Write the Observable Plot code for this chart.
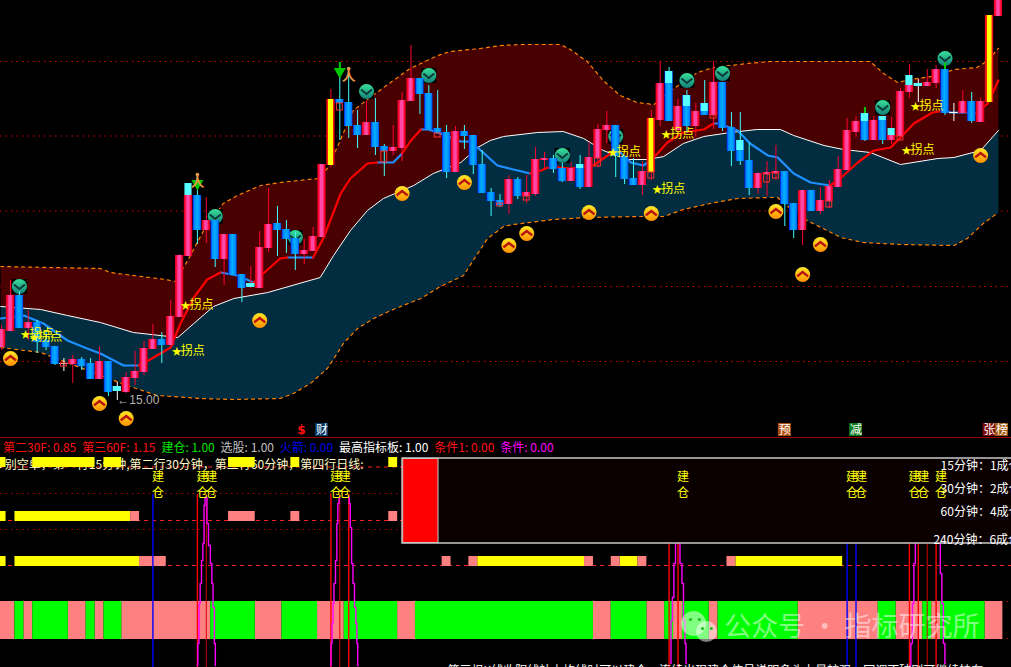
<!DOCTYPE html>
<html><head><meta charset="utf-8">
<script src="https://cdn.jsdelivr.net/npm/d3@7"></script>
<script src="https://cdn.jsdelivr.net/npm/@observablehq/plot@0.6"></script>
<style>
html,body{margin:0;padding:0;background:#000;overflow:hidden;width:1011px;height:667px}
#hdr{height:19px;line-height:18px;white-space:nowrap;font:12px "Noto Sans CJK SC",sans-serif;padding-left:3px;overflow:hidden;box-sizing:border-box}
#hdr span{margin-right:5.9px;display:inline-block}
svg{display:block}
</style></head><body>
<svg width="0" height="0" style="position:absolute"><defs>
<linearGradient id="up"><stop offset="0" stop-color="#d00020"/><stop offset=".15" stop-color="#ff0028"/><stop offset=".38" stop-color="#ff48a8"/><stop offset=".64" stop-color="#ff48a8"/><stop offset=".85" stop-color="#ff0028"/><stop offset="1" stop-color="#d00020"/></linearGradient>
<linearGradient id="dn"><stop offset="0" stop-color="#0010f0"/><stop offset=".16" stop-color="#0080ff"/><stop offset=".5" stop-color="#00b0ff"/><stop offset=".84" stop-color="#0088ff"/><stop offset="1" stop-color="#0040f0"/></linearGradient>
<linearGradient id="yl"><stop offset="0" stop-color="#e00020"/><stop offset=".2" stop-color="#ff2000"/><stop offset=".26" stop-color="#ffff00"/><stop offset=".76" stop-color="#ffff00"/><stop offset=".84" stop-color="#ff2000"/><stop offset="1" stop-color="#e00020"/></linearGradient>
<linearGradient id="gr" x1="0" y1="0" x2="0" y2="1"><stop offset="0" stop-color="#38e09a"/><stop offset="1" stop-color="#128078"/></linearGradient>
<linearGradient id="or" x1="0" y1="0" x2="0" y2="1"><stop offset="0" stop-color="#ffe828"/><stop offset="1" stop-color="#ff9000"/></linearGradient>
</defs></svg>
<div id="main"></div><div id="hdr"></div><div id="sub"></div>
<script>
// ---- candles, one value per bar (price units)
const open=[16.04,16.36,17.08,16.42,16.54,16.18,16.06,15.72,15.70,15.80,15.72,15.40,15.76,15.26,15.14,15.42,15.54,16.00,16.20,16.08,16.64,17.86,19.08,18.38,18.58,17.80,18.30,17.50,17.32,17.22,18.02,18.52,18.40,18.22,17.90,17.96,18.24,19.68,21.00,20.94,20.48,20.28,20.54,20.06,19.96,20.02,20.96,21.42,21.12,20.42,20.34,19.54,20.36,20.28,19.70,19.14,18.98,18.90,19.40,19.06,19.10,19.78,19.82,19.62,19.36,19.70,19.24,19.82,20.38,20.48,19.86,19.42,19.28,19.54,20.58,21.56,20.38,21.08,20.46,20.92,20.68,21.34,20.44,20.18,19.78,19.22,19.50,19.52,19.56,18.92,18.38,19.18,18.76,18.96,19.24,19.58,20.34,20.72,20.18,20.66,20.18,20.26,21.14,21.32,21.26,21.32,21.60,20.74,20.72,20.96,20.54,20.94,22.66];
const close=[16.40,17.08,16.42,16.54,16.14,16.04,15.70,15.72,15.80,15.66,15.40,15.76,15.14,15.16,15.44,15.56,16.02,16.20,16.08,16.66,17.88,19.08,18.38,18.58,17.80,18.30,17.48,17.22,17.24,18.04,18.50,18.38,18.20,17.90,17.98,18.26,19.70,21.00,20.92,20.46,20.28,20.54,20.04,19.96,20.04,20.98,21.42,21.10,20.40,20.32,19.54,20.36,20.26,19.68,19.12,18.96,18.88,19.40,19.06,19.14,19.80,19.82,19.60,19.36,19.62,19.24,19.84,20.40,20.48,19.86,19.40,19.28,19.56,20.62,21.32,20.56,20.86,20.46,20.76,20.68,21.34,20.42,19.96,19.76,19.22,19.52,19.54,19.56,18.90,18.38,19.18,18.76,18.98,19.26,19.60,20.38,20.56,20.18,20.58,20.18,20.28,21.16,21.28,21.26,21.34,21.60,20.72,20.74,20.96,20.56,20.96,22.68,22.98];
const high=[16.48,17.38,17.16,16.78,16.58,16.38,16.06,15.82,15.88,15.84,15.82,16.06,15.76,15.34,15.54,15.96,16.16,16.50,16.34,16.98,17.90,19.32,19.46,19.04,18.58,18.30,18.30,17.50,17.66,18.36,19.22,18.86,18.58,18.34,18.20,18.44,19.70,21.20,21.72,21.48,20.78,20.96,21.02,20.10,20.48,21.14,22.08,21.42,21.28,21.18,20.48,20.46,20.48,20.28,19.98,19.22,19.10,19.48,19.44,19.48,20.04,19.94,19.88,19.72,19.74,19.88,20.14,20.50,20.76,20.48,19.86,19.82,19.76,20.78,21.76,21.64,21.00,21.18,20.92,21.38,21.76,21.34,20.74,20.74,20.14,19.54,19.76,20.08,19.56,18.92,19.18,19.18,19.24,19.38,19.86,20.62,20.66,20.84,20.66,20.66,20.64,21.22,21.70,21.40,21.60,21.68,21.60,20.92,21.18,21.14,21.02,22.68,22.98];
const low=[15.98,16.36,16.42,16.18,15.92,15.98,15.68,15.56,15.32,15.58,15.40,15.40,15.06,14.98,15.12,15.28,15.48,16.00,15.72,16.08,16.64,17.86,18.10,18.12,17.64,17.28,17.48,16.94,17.22,17.22,17.94,17.86,17.92,17.58,17.70,17.96,18.24,19.64,20.18,20.22,20.02,20.28,19.88,19.46,19.88,19.76,20.96,20.70,20.40,20.32,19.42,19.54,20.00,19.50,19.12,18.66,18.84,18.70,19.00,18.92,19.06,19.62,19.52,19.34,19.36,19.20,19.24,19.64,20.12,19.44,19.30,19.28,19.08,19.38,20.46,20.56,20.26,20.32,20.24,20.68,20.40,20.36,19.66,19.68,19.08,19.10,19.06,19.38,18.46,18.22,18.08,18.76,18.70,18.82,19.24,19.58,20.24,20.16,20.18,20.10,20.10,20.18,21.02,20.94,21.26,21.22,20.68,20.56,20.72,20.52,20.54,20.94,22.66];
const yellowBars=[37,73,111], dojiBars=[7,107], cyanBars=[13,28,103], whiteWickBars=[7,13,103,107], redWickBars=[28];
// light cyan upper parts of some bodies: bar, top, bottom
const capBars=[21,65,75,77,79,83,97,99,100,102];
const capTop=[19.32,19.70,21.56,21.08,20.92,20.18,20.72,20.66,20.42,21.48];
const capBottom=[19.08,19.62,21.32,20.86,20.76,19.98,20.56,20.58,20.28,21.28];
// hollow red signal boxes
const boxBars=[7,38,43,49,56,59,67,73,80,86,87,93,101];
const boxTop=[15.72,20.92,19.96,20.32,18.92,19.06,19.82,19.54,20.68,19.50,19.52,18.96,20.26];
const boxBottom=[15.66,20.78,19.74,20.24,18.86,18.98,19.66,19.42,20.62,19.34,19.42,18.84,20.18];
// envelope lines
const upperBar=[-0.1,11.1,12.2,18.4,19.5,20.9,22.7,24.9,26.5,29.1,31.3,35.5,36.6,37.7,39.5,41.4,43.7,45.9,49.0,50.4,53.8,56.1,58.6,62.8,63.9,65.8,67.6,69.5,71.4,73.3,75.2,78.2,80.0,83.8,86.4,89.0,97.6,99.1,100.7,102.1,105.2,107.0,109.6,110.8,112.0];
const upperPrice=[17.66,17.62,17.54,17.40,17.36,17.78,18.38,18.92,19.08,19.28,19.34,19.42,19.62,20.04,20.78,21.04,21.34,21.62,21.88,21.96,22.02,22.08,22.10,22.10,22.00,21.76,21.38,21.08,20.94,20.90,21.18,21.54,21.64,21.72,21.76,21.76,21.76,21.52,21.34,21.40,21.48,21.60,21.64,21.78,22.02];
const midBar=[-0.1,4.4,7.4,11.1,14.8,19.8,21.6,23.8,26.1,29.9,35.8,37.3,39.2,41.1,42.9,46.3,48.5,51.6,53.5,54.9,56.4,60.2,63.1,65.4,67.6,70.3,72.6,74.4,76.6,78.9,81.9,84.9,87.5,89.0,92.4,94.6,97.6,101.0,105.2,107.0,110.0,112.0];
const midPrice=[16.86,16.80,16.68,16.54,16.34,16.24,16.52,16.86,17.02,17.14,17.44,17.88,18.38,18.78,19.02,19.28,19.52,19.74,20.04,20.18,20.26,20.34,20.36,20.22,19.98,19.80,19.80,19.86,20.12,20.26,20.34,20.40,20.40,20.28,20.08,20.00,19.94,19.70,19.82,19.84,19.98,20.38];
const lowerBar=[-0.1,4.4,14.1,17.5,22.3,26.1,31.3,32.8,34.7,36.6,37.7,38.4,40.0,41.8,44.0,47.1,49.3,51.9,53.2,54.6,56.4,57.5,62.0,65.8,71.4,74.4,76.6,79.6,82.7,86.1,87.2,87.9,90.5,94.3,96.8,101.0,107.0,108.5,110.3,112.0];
const lowerPrice=[16.04,15.94,15.28,15.08,15.02,15.00,15.02,15.12,15.32,15.62,15.92,16.12,16.42,16.62,16.80,17.02,17.26,17.48,17.84,18.22,18.46,18.50,18.60,18.64,18.66,18.66,18.80,18.92,19.02,19.04,19.04,18.92,18.58,18.24,18.14,18.10,18.08,18.22,18.52,18.74];
// moving average, broken into rising (red) and falling (blue) runs of [bar, price]
const maRed=[
[[15.4,15.68],[16.5,15.78],[19.0,16.04],[20.1,16.52],[21.6,17.04],[23.1,17.40],[24.6,17.54]],
[[28.3,17.34],[29.4,17.52],[31.3,17.82],[32.1,17.84]],
[[35.0,17.84],[36.2,18.24],[38.1,19.12],[39.2,19.42],[41.1,19.72],[42.2,19.74]],
[[45.0,19.92],[46.0,20.18],[47.1,20.40]],
[[59.4,19.52],[60.6,19.58],[61.7,19.66],[63.9,19.62],[66.5,19.68],[68.4,19.92],[69.3,19.98]],
[[72.6,19.74],[73.7,19.92],[74.8,20.14],[76.6,20.34],[78.9,20.40],[80.0,20.52]],
[[93.1,19.28],[94.6,19.48],[96.2,19.74],[98.0,19.98],[99.9,20.04],[102.5,20.52],[104.6,20.74],[106.1,20.78]],
[[109.4,20.72],[110.8,20.92],[112.0,21.38]]];
const maBlue=[
[[-0.1,16.62],[2.5,16.68],[4.7,16.52],[7.4,16.18],[9.6,16.02],[11.1,15.92],[13.7,15.68],[15.4,15.68]],
[[24.6,17.54],[26.5,17.48],[28.3,17.34]],
[[32.1,17.84],[35.0,17.84]],
[[42.2,19.74],[44.0,19.74],[45.0,19.92]],
[[47.1,20.40],[48.0,20.40],[49.9,20.28],[51.6,20.16],[52.5,20.16],[53.6,20.02],[55.7,19.68],[57.5,19.60],[59.4,19.52]],
[[69.3,19.98],[70.7,19.74],[72.1,19.68],[72.6,19.74]],
[[80.0,20.52],[80.6,20.52],[82.7,20.38],[84.1,20.12],[86.1,19.88],[87.2,19.84],[89.0,19.52],[90.9,19.34],[93.1,19.28]],
[[106.1,20.78],[106.6,20.74],[108.5,20.74],[109.4,20.72]]];
const gridPrices=[21.76,20.27,18.77,17.26,15.76];
// signals
const sellBars=[2,24,33,41,48,63,69,77,81,99,106];
const sellPrice=[17.26,18.66,18.24,21.16,21.48,19.88,20.26,21.38,21.52,20.84,21.82];
const buyBars=[1,11,14,29,45,52,57,59,66,73,110,92,90,87];
const buyPrice=[15.82,14.92,14.62,16.58,19.12,19.34,18.08,18.32,18.74,18.72,19.88,18.10,17.50,18.76];
const pivotBars=[2,3,19,20,68,74,73,102,101];
const pivotPrice=[16.30,16.24,15.96,16.88,19.94,20.30,19.20,20.86,19.98];
const arrowBars=[38,22], arrowTop=[21.74,19.42], arrowTip=[21.56,19.32];
const runnerBars=[39,22], runnerPrice=[21.48,19.36];
const stemBars=[97,106], stemTop=[20.84,21.72], stemBottom=[20.72,21.60];
const tagBars=[36,88,96,111,112.4], tagText=["财","预","减","张","榜"], tagColor=["#0a3a6a","#b05010","#0a7a1a","#7a0a0a","#a05a10"];
const tagTop=14.52, tagBottom=14.26, tagMid=14.39;

// ---- header strip
const hdrLabel=["第二30F","第三60F","建仓","选股","火箭","最高指标板","条件1","条件"];
const hdrValue=["0.85","1.15","1.00","1.00","0.00","1.00","0.00","0.00"];
const hdrColor=["#ff1010","#ff1010","#00e000","#c0c0c0","#0000e8","#ffffff","#ff1010","#ff00ff"];

// ---- lower pane
const rowYellow0=[[-1,0],[4,10],[12,13],[26,28],[33,33],[44,44]];
const rowYellow1=[[-1,0],[2,14]];
const rowPink1=[[15,15],[26,28],[33,33],[44,44]];
const rowYellow2=[[-1,0],[2,15],[54,65],[70,71],[83,94]];
const rowPink2=[[16,18],[50,50],[53,53],[66,66],[69,69],[72,72],[82,82]];
const rowPink3=[[-1,1],[3,3],[8,9],[11,11],[14,23],[29,31],[36,38],[45,46],[67,68],[73,74],[76,76],[80,80],[90,98],[101,103],[105,105],[111,112]];
const rowGreen3=[[2,2],[4,7],[10,10],[12,13],[24,28],[32,35],[39,44],[47,66],[69,72],[75,75],[77,79],[81,89],[99,100],[104,104],[106,110]];
const buildBars=[17,22,23,37,38,76,95,96,102,103,105];
const blueRules=[17,95,96], brightRules=[22,37,39,75,76,102,103,105], dimRules=[23,38,104];
const magentaRuns=[
[[22.91,17.0],[22.80,16.2],[22.69,12.4],[22.54,10.7],[22.38,8.4],[22.24,6.4],[22.12,2.4],[21.98,0.2]],
[[23.02,17.0],[23.13,14.4],[23.36,12.2],[23.55,10.4],[23.70,8.4],[23.81,6.0],[24.00,2.4],[24.03,0.2]],
[[37.97,16.9],[37.85,16.4],[37.71,14.4],[37.63,10.7],[37.40,8.4],[37.29,6.4],[37.18,4.4],[37.07,2.4],[36.96,0.2]],
[[39.03,17.0],[39.09,16.4],[39.26,14.0],[39.39,10.4],[39.57,8.4],[39.73,6.0],[39.88,4.4],[39.96,2.4],[40.07,0.2]],
[[75.83,12.7],[75.61,10.4],[75.46,7.0],[75.27,4.7],[75.16,0.4]],
[[76.05,12.7],[76.39,10.4],[76.50,8.4],[76.73,4.7],[76.84,2.4],[76.96,0.4]],
[[102.76,12.7],[102.57,10.4],[102.43,6.4],[102.24,2.4],[102.09,0.2]],
[[105.38,12.7],[105.57,9.4],[105.72,6.4],[105.91,2.4],[106.06,0.4]]];
const panelNotes=["15分钟：1成仓","30分钟：2成仓","60分钟：4成仓","240分钟：6成仓"];
const panelNoteBar=[105.5,105.5,105.5,104.7], panelNoteLevel=[20.1,17.8,15.5,12.7];
const rowCaption="做多别空单，第一行15分钟,第二行30分钟，第三行60分钟，第四行日线:";
// clipped at the window edge in the reference and only its top pixels show: wording is a stand-in
const bottomCaption="第三根K线收阳线站上均线时可以建仓，连续出现建仓信号说明多头力量较强，回调不破则可继续持有";

// ---- build tables
const CJK="Noto Sans CJK SC, sans-serif";
const barCount=d3.range(open.length);
const candles=barCount.map(i=>({i,o:open[i],c:close[i],h:high[i],l:low[i],
  kind:yellowBars.includes(i)?"y":dojiBars.includes(i)?"d":cyanBars.includes(i)?"c":close[i]>=open[i]?"u":"n"}));
const wickColor=d=>whiteWickBars.includes(d.i)?"#ffffff":redWickBars.includes(d.i)?"#ff0030":(d.kind==="n"||d.kind==="c")?"#40ffff":"#ff0030";
const xy=(xs,ys)=>xs.map((x,k)=>({x,y:ys[k]}));
const upperPts=xy(upperBar,upperPrice), midPts=xy(midBar,midPrice), lowerPts=xy(lowerBar,lowerPrice);
const runs=list=>list.flatMap((r,z)=>r.map(([x,y])=>({x,y,z})));
const HW=0.47;
const body=(kind,fill)=>Plot.rect(candles.filter(d=>d.kind===kind),{x1:d=>d.i-HW,x2:d=>d.i+HW,y1:"o",y2:"c",fill});
const chevron=(dir)=>({draw(c,s){const r=Math.sqrt(s/Math.PI);c.moveTo(-r,dir*r*0.35);c.lineTo(0,-dir*r*0.45);c.lineTo(r,dir*r*0.35);}});

const main=Plot.plot({width:1011,height:438,margin:0,marginBottom:1,
 x:{domain:[-0.1236,113.47],axis:null},y:{domain:[14.24,22.98],axis:null},
 style:{background:"#000",overflow:"hidden"},
 marks:[
  Plot.ruleY(gridPrices,{y:d=>d,stroke:"#d00000",strokeDasharray:"1.5,4"}),
  Plot.line(upperPts.concat(midPts.slice().reverse()),{x:"x",y:"y",fill:"#480000",stroke:"none"}),
  Plot.line(midPts.concat(lowerPts.slice().reverse()),{x:"x",y:"y",fill:"#022c40",stroke:"none"}),
  Plot.line(upperPts,{x:"x",y:"y",stroke:"#ff8000",strokeWidth:1.2,strokeDasharray:"3,4"}),
  Plot.line(lowerPts,{x:"x",y:"y",stroke:"#ff8000",strokeWidth:1.2,strokeDasharray:"3,4"}),
  Plot.line(midPts,{x:"x",y:"y",stroke:"#ffffff",strokeWidth:1}),
  Plot.line(runs(maBlue),{x:"x",y:"y",z:"z",stroke:"#1e90ff",strokeWidth:2.2}),
  Plot.line(runs(maRed),{x:"x",y:"y",z:"z",stroke:"#ff0000",strokeWidth:2.2}),
  Plot.dot(xy(sellBars,sellPrice),{x:"x",y:"y",symbol:"square",r:8.5,fill:"#000"}),
  Plot.dot(xy(sellBars,sellPrice),{x:"x",y:"y",r:7.5,fill:"url(#gr)"}),
  Plot.dot(xy(sellBars,sellPrice),{x:"x",y:"y",symbol:chevron(-1),r:5.5,stroke:"#0c3a3a",fill:"none",strokeWidth:2}),
  Plot.ruleX(candles,{x:"i",y1:"l",y2:"h",stroke:wickColor,strokeWidth:1}),
  body("u","url(#up)"),body("n","url(#dn)"),body("y","url(#yl)"),body("c","#55ffff"),
  Plot.ruleY(candles.filter(d=>d.kind==="d"),{y:"o",x1:d=>d.i-HW,x2:d=>d.i+HW,stroke:"#ffffff"}),
  Plot.rect(capBars.map((b,k)=>({b,t:capTop[k],e:capBottom[k]})),{x1:d=>d.b-HW*0.85,x2:d=>d.b+HW*0.85,y1:"t",y2:"e",fill:"#55ffff"}),
  Plot.rect(boxBars.map((b,k)=>({b,t:boxTop[k],e:boxBottom[k]})),{x1:d=>d.b-0.33,x2:d=>d.b+0.33,y1:"t",y2:"e",fill:"none",stroke:"#ff3030",strokeWidth:1}),
  Plot.dot(xy(buyBars,buyPrice),{x:"x",y:"y",r:7.5,fill:"url(#or)"}),
  Plot.dot(xy(buyBars,buyPrice),{x:"x",y:"y",symbol:chevron(1),r:5.5,stroke:"#b81010",fill:"none",strokeWidth:2.4}),
  Plot.ruleX(xy(arrowBars,arrowTop),{x:"x",y1:"y",y2:(d,k)=>arrowTip[k],stroke:"#00c800",strokeWidth:2}),
  Plot.dot(xy(arrowBars,arrowTip),{x:"x",y:"y",symbol:"triangle",rotate:180,r:4.5,fill:"#00c800"}),
  Plot.ruleX(xy(stemBars,stemTop),{x:"x",y1:"y",y2:(d,k)=>stemBottom[k],stroke:"#00c800",strokeWidth:2}),
  Plot.text(xy(runnerBars,runnerPrice),{x:"x",y:"y",text:()=>"人",fill:"#e89848",fontFamily:CJK,fontWeight:"bold",fontSize:14}),
  Plot.dot(xy(runnerBars,runnerPrice),{x:"x",y:d=>d.y+0.14,r:1.8,fill:"#e89848"}),
  Plot.text(xy(pivotBars,pivotPrice),{x:"x",y:"y",text:()=>"★",fill:"#ffff00",fontFamily:CJK,fontSize:10,dx:6}),
  Plot.text(xy(pivotBars,pivotPrice),{x:"x",y:"y",text:()=>"拐点",fill:"#ffff00",fontFamily:CJK,fontSize:12,textAnchor:"start",dx:10}),
  Plot.text([{x:13,y:14.98}],{x:"x",y:"y",text:()=>"←15.00",fill:"#b4b4b4",fontFamily:"Liberation Sans",fontSize:12,textAnchor:"start"}),
  Plot.rect(tagBars.map((b,k)=>({b,k})),{x1:d=>d.b-0.72,x2:d=>d.b+0.72,y1:tagTop,y2:tagBottom,fill:(d)=>tagColor[d.k]}),
  Plot.text(tagBars.map((b,k)=>({b,k})),{x:"b",y:tagMid,text:d=>tagText[d.k],fill:"#fff",fontFamily:CJK,fontSize:12}),
  Plot.text([{b:33.7}],{x:"b",y:tagMid,text:()=>"$",fill:"#ff1010",fontFamily:"DejaVu Sans",fontWeight:"bold",fontSize:12}),
  Plot.ruleY([14.24],{stroke:"#a00000",strokeWidth:1})
 ]});
document.getElementById("main").append(main);

document.getElementById("hdr").innerHTML=hdrLabel.map((l,k)=>`<span style="color:${hdrColor[k]}">${l}: ${hdrValue[k]}</span>`).join("");

const seg=(list,y1,y2,fill)=>Plot.rect(list,{x1:d=>d[0]-0.5,x2:d=>d[1]+0.5,y1,y2,fill});
const vrules=(list,stroke,strokeWidth)=>Plot.ruleX(list,{x:d=>d,y1:0,y2:17.3,stroke,strokeWidth});
const sub=Plot.plot({width:1011,height:210,margin:0,
 x:{domain:[-0.1236,113.47],axis:null},y:{domain:[0,21],axis:null},
 style:{background:"#000",overflow:"hidden"},
 marks:[
  Plot.ruleY([17.4,13.8,6.6,2.9],{y:d=>d,stroke:"#b00000",strokeDasharray:"1.5,4"}),
  Plot.ruleY([20.05,14.7,10.2],{y:d=>d,stroke:"#ff2020",strokeDasharray:"4,4"}),
  Plot.text([rowCaption],{x:()=>40.66,y:()=>20.2,text:d=>d,textAnchor:"end",fill:"#fff8c8",fontFamily:CJK,fontSize:12}),
  seg(rowYellow0,21,20,"#ffff00"),
  seg(rowYellow1,15.6,14.6,"#ffff00"),seg(rowPink1,15.6,14.6,"#ff8080"),
  seg(rowYellow2,11.1,10.1,"#ffff00"),seg(rowPink2,11.1,10.1,"#ff8080"),
  seg(rowPink3,6.6,2.8,"#ff8080"),seg(rowGreen3,6.6,2.8,"#00ff00"),
  vrules(dimRules,"#d80000",1),vrules(brightRules,"#ff0000",1.4),vrules(blueRules,"#0000ff",1.4),
  Plot.line(runs(magentaRuns),{x:"x",y:"y",z:"z",stroke:"#ff00ff",strokeWidth:1.4,curve:"step"}),
  Plot.rect([0],{x1:45.05,x2:114,y1:20.9,y2:12.4,fill:"#0a0000",stroke:"#c8c8c8",strokeWidth:1.5}),
  Plot.rect([0],{x1:45.12,x2:49.09,y1:20.85,y2:12.45,fill:"#ff0000",stroke:"#c8c8c8",strokeWidth:1}),
  Plot.text(panelNotes,{x:(d,k)=>panelNoteBar[k],y:(d,k)=>panelNoteLevel[k],text:d=>d,textAnchor:"start",fill:"#ffffff",fontFamily:CJK,fontSize:12}),
  Plot.text(buildBars,{x:d=>d,y:()=>19.0,text:()=>"建",textAnchor:"start",fill:"#ffff00",fontFamily:CJK,fontSize:12,dx:-1}),
  Plot.text(buildBars,{x:d=>d,y:()=>17.4,text:()=>"仓",textAnchor:"start",fill:"#ffff00",fontFamily:CJK,fontSize:12,dx:-1}),
  Plot.dot([[77.74,4.4]],{x:d=>d[0],y:d=>d[1],r:12.5,fill:"#fff",fillOpacity:0.5}),
  Plot.dot([[79.2,3.6]],{x:d=>d[0],y:d=>d[1],r:10.5,fill:"#fff",fillOpacity:0.5}),
  Plot.dot([[77.4,4.8],[78.4,4.8],[78.75,3.9],[79.75,3.9]],{x:d=>d[0],y:d=>d[1],r:1.6,fill:"#20c020"}),
  Plot.text(["公众号 · 指标研究所"],{x:()=>81.2,y:()=>4.0,text:d=>d,textAnchor:"start",fill:"#fff",fillOpacity:0.5,fontFamily:CJK,fontSize:27}),
  Plot.text([bottomCaption],{x:()=>50.1,y:()=>-0.4,text:d=>d,textAnchor:"start",fill:"#fff",fontFamily:CJK,fontSize:12})
 ]});
document.getElementById("sub").append(sub);
</script></body></html>
